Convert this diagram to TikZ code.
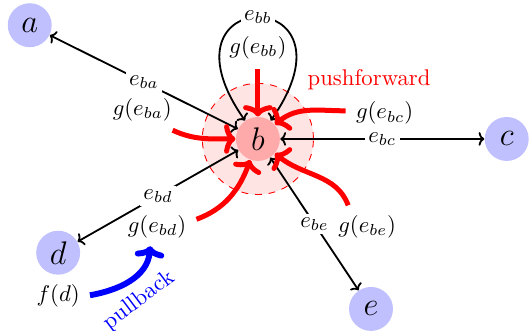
\documentclass[tikz,border=0pt]{standalone}
\usepackage{amsmath}
\usepackage{tikz}
\usetikzlibrary{arrows.meta,calc,positioning}
\definecolor{Vertex}{HTML}{C0C0FF}
\definecolor{Hub}{HTML}{FFAAAA}
\definecolor{Zone}{HTML}{FFE4E4}
\tikzset{
  vertex/.style={circle,minimum size=0.68cm,inner sep=0pt,draw=none,fill=Vertex,font=\Large},
  hub/.style={vertex,fill=Hub},
  zone/.style={circle,minimum size=1.72cm,inner sep=0pt,draw=red,dashed,fill=Zone},
  edgeline/.style={{To[length=2.5pt,width=6pt]}-{To[length=2.5pt,width=6pt]},thick,draw=black},
  elabel/.style={fill=white,inner sep=1.5pt},
  push/.style={-{To[length=5pt,width=13pt]},line width=2.2pt,draw=red,shorten <=1pt},
  pull/.style={push,draw=blue,line width=2.6pt},
}
\begin{document}
\begin{tikzpicture}[x=1cm,y=1cm]
    \useasboundingbox (-3.99,-2.97) rectangle (4.21,2.15);
    \node[zone] (zone) at (0,0) {};
    \node[hub] (b) at (0,0) {$b$};
    \node[vertex] (a) at (-3.53,1.76) {$a$};
    \node[vertex] (c) at (3.85,0) {$c$};
    \node[vertex] (d) at (-3.09,-1.76) {$d$};
    \node[vertex] (e) at (1.75,-2.63) {$e$};
    \node[below=0.5pt of d] (fd) {$f(d)$};

    \draw[edgeline] (b) -- node[elabel] {$e_{ba}$} (a);
    \draw[edgeline] (b) -- node[elabel] {$e_{bc}$} (c);
    \draw[edgeline] (b) -- node[elabel] {$e_{bd}$} (d);
    \draw[edgeline] (b) -- node[elabel] {$e_{be}$} (e);
    \draw[edgeline] (b) to[out=125,in=55,distance=2.6cm] node[elabel] {$e_{bb}$} (b);

    \node (gba) at (-1.79,0.45) {$g(e_{ba})$};
    \node (gbb) at (0,1.41) {$g(e_{bb})$};
    \node (gbc) at (1.96,0.40) {$g(e_{bc})$};
    \node (gbd) at (-1.56,-1.36) {$g(e_{bd})$};
    \node (gbe) at (1.69,-1.36) {$g(e_{be})$};
    \node[text=red] (pushlbl) at (1.72,0.91) {pushforward};

    \draw[push] (gbb.south) -- (b);
    \draw[push] ([yshift=1pt]gbc.west) to[out=180,in=40] (b);
    \draw[push] ([xshift=-4pt]gba.south east) to[out=-25,in=180] (b);
    \draw[push] ([yshift=3pt]gbd.east) to[out=20,in=-110] (b);
    \draw[push] ([xshift=-8pt]gbe.north) to[out=110,in=-40] (b);

    \draw[pull] (fd.east) to[out=10,in=-95] ([xshift=-3pt]gbd.south);
    \node[text=blue,rotate=37] (pulllbl) at (-1.84,-2.5) {pullback};
\end{tikzpicture}
\end{document}
